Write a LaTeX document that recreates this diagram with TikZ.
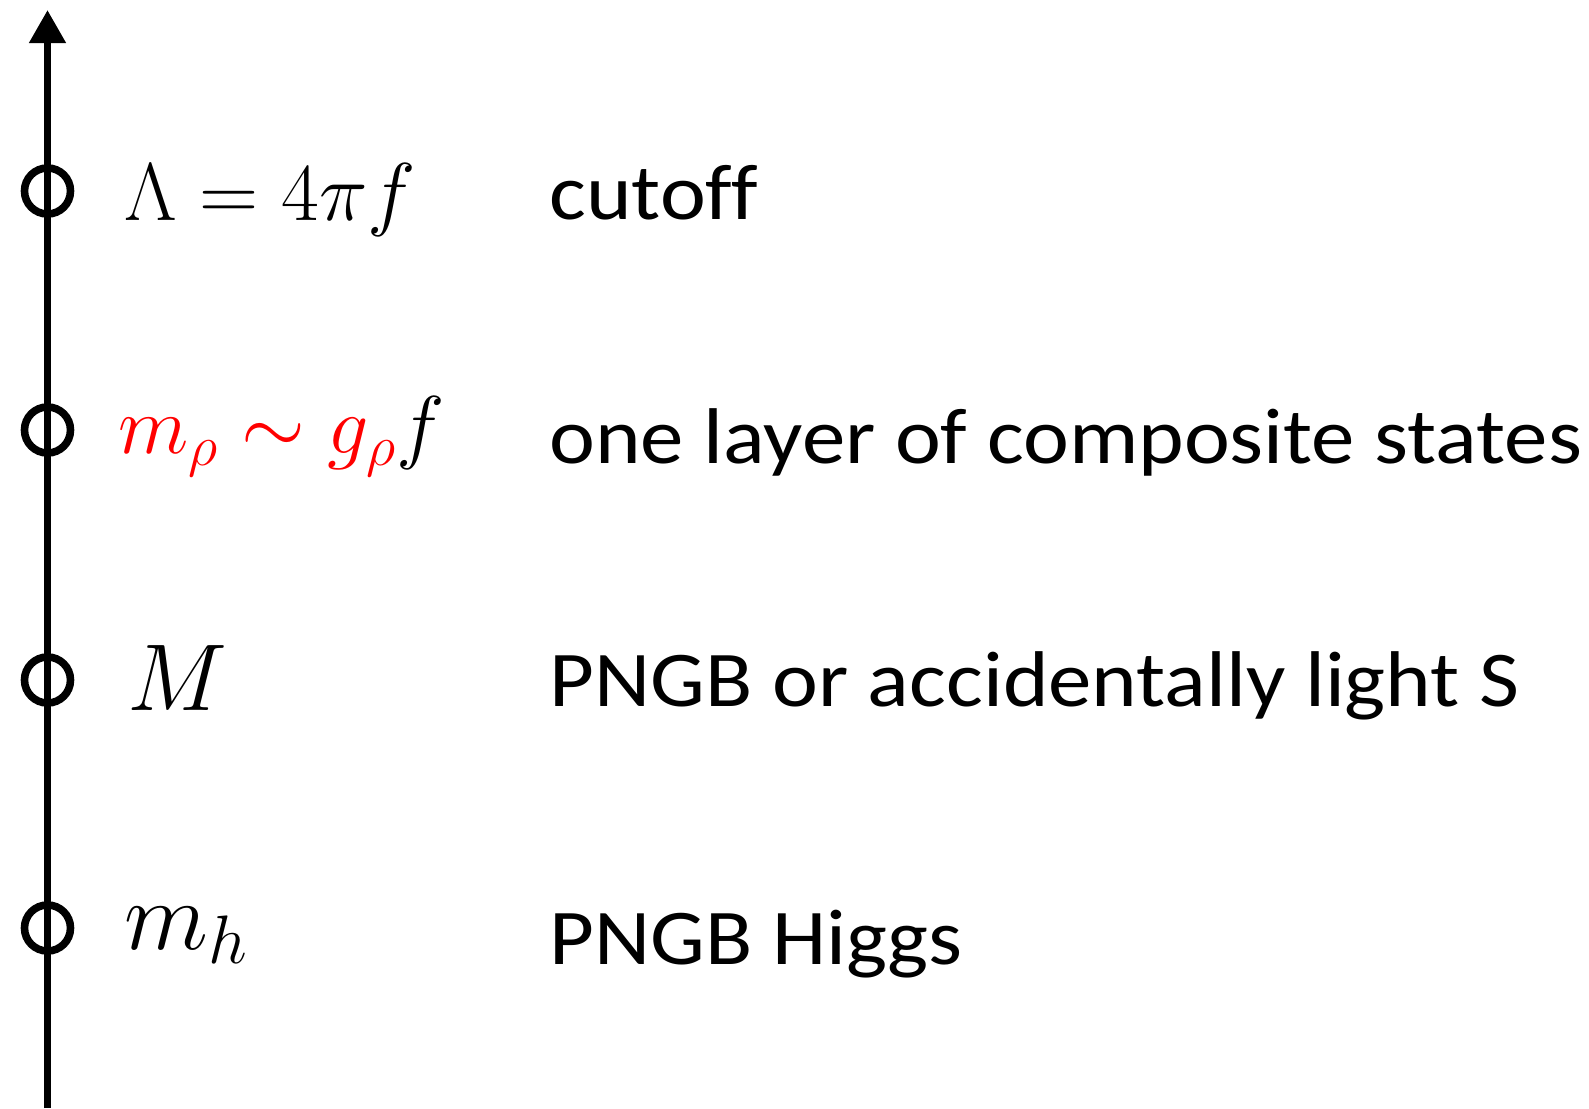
\RequirePackage{fix-cm}
\documentclass[tikz,border=0pt]{standalone}
\usepackage{fontspec}
\setmainfont{Carlito}[FakeStretch=1.10, Ligatures=NoCommon]
\usetikzlibrary{arrows.meta}
\tikzset{
  asse/.style  = {line width=3.8pt, -{Triangle[length=16.5pt, width=17.5pt]}},
  scala/.style = {circle, draw, line width=3.8pt, minimum size=23pt, inner sep=0},
  massa/.style = {anchor=base west, inner sep=0, font=\fontsize{#1}{1.2\dimexpr#1pt}\selectfont},
  massa/.default = 41,
  descr/.style = {anchor=base west, inner sep=0, font=\fontsize{39.5}{47}\selectfont}
}

\begin{document}
\begin{tikzpicture}[x=0.5pt, y=-0.5pt]
  \useasboundingbox (0,0) rectangle (1589,1108);
  \coordinate (bot) at (47.5,1108);
  \coordinate (top) at (47.5,10);
  \draw[asse] (bot) -- (top);
  % scale di energia
  \node[scala] (L) at (47.5,191){};
  \node[scala] (R) at (47.5,430){};
  \node[scala] (S) at (47.5,680){};
  \node[scala] (H) at (47.5,928){};
  \node[massa] (mL) at (124,220) {$\Lambda = 4\pi f$};
  \node[massa] (mR) at (118,453) {$\color{red}m_\rho \sim g_\rho\color{black} f$};
  \node[massa=47.5] (mS) at (127,710) {$M$};
  \node[massa=49] (mH) at (124,949) {$m_h$};
  \node[descr] (dL) at (549,219) {cutoff};
  \node[descr] (dR) at (549,463) {one layer of composite states};
  \node[descr] (dS) at (549,706) {PNGB or accidentally light S};
  \node[descr] (dH) at (549,964) {PNGB Higgs};
\end{tikzpicture}
\end{document}
